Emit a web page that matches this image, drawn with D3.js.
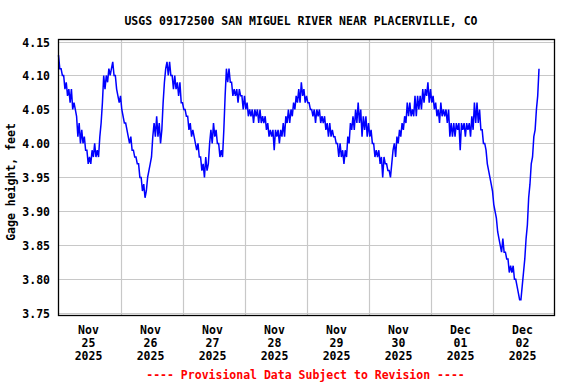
<!DOCTYPE html>
<html>
<head>
<meta charset="utf-8">
<script src="https://cdn.jsdelivr.net/npm/d3@7"></script>
<style>
  body { margin: 0; background: #fff; }
  text { font-family: "DejaVu Sans Mono", monospace; font-weight: bold; font-size: 11.5px; }
</style>
</head>
<body>
<div id="wrapper"></div>
<script>
const chartTitle = "USGS 09172500 SAN MIGUEL RIVER NEAR PLACERVILLE, CO"
const yLabel = "Gage height, feet"
const footNote = "---- Provisional Data Subject to Revision ----"
// time window of the graph and spacing of the readings
const startTime = new Date(2025, 10, 25, 0, 0)
const endTime = new Date(2025, 11, 3, 0, 0)
const stepMinutes = 30
const yTicks = [3.75, 3.80, 3.85, 3.90, 3.95, 4.00, 4.05, 4.10, 4.15]
// gage height, feet, every 30 minutes from Nov 25 00:00
const gageHeight = [
  // nov 25
  4.13,4.11, 4.11,4.10, 4.10,4.08, 4.09,4.07, 4.08,4.06, 4.08,4.05, 4.06,4.05, 4.04,4.01,
  4.03,4.00, 4.02,4.00, 4.01,3.99, 3.99,3.97, 3.98,3.97, 3.99,3.98, 4.00,3.98, 3.99,3.98,
  4.01,4.03, 4.06,4.10, 4.08,4.10, 4.09,4.11, 4.10,4.11, 4.12,4.10, 4.10,4.08, 4.07,4.06,
  // nov 26
  4.07,4.05, 4.04,4.03, 4.03,4.02, 4.01,4.00, 4.01,3.99, 3.99,3.98, 3.98,3.97, 3.97,3.95,
  3.95,3.93, 3.94,3.92, 3.93,3.95, 3.96,3.97, 3.98,4.01, 4.03,4.01, 4.04,4.01, 4.03,4.00,
  4.02,4.06, 4.09,4.11, 4.12,4.10, 4.12,4.10, 4.10,4.08, 4.10,4.08, 4.09,4.07, 4.09,4.06,
  // nov 27
  4.06,4.05, 4.05,4.04, 4.04,4.02, 4.03,4.01, 4.02,4.01, 4.00,3.99, 4.00,3.98, 3.98,3.96,
  3.97,3.95, 3.98,3.96, 3.97,4.00, 4.02,4.00, 4.03,4.01, 4.02,4.00, 4.00,3.98, 3.99,3.98,
  4.02,4.07, 4.11,4.09, 4.11,4.09, 4.09,4.07, 4.08,4.07, 4.08,4.06, 4.08,4.07, 4.07,4.05,
  // nov 28
  4.07,4.05, 4.06,4.04, 4.05,4.04, 4.05,4.03, 4.05,4.04, 4.05,4.03, 4.05,4.03, 4.04,4.03,
  4.04,4.02, 4.03,4.01, 4.02,4.01, 4.02,3.99, 4.02,4.01, 4.02,4.00, 4.02,4.01, 4.03,4.01,
  4.04,4.03, 4.05,4.03, 4.05,4.04, 4.06,4.05, 4.07,4.06, 4.08,4.06, 4.09,4.07, 4.08,4.06,
  // nov 29
  4.07,4.06, 4.06,4.05, 4.05,4.04, 4.05,4.03, 4.05,4.04, 4.05,4.03, 4.04,4.03, 4.04,4.02,
  4.03,4.01, 4.03,4.01, 4.02,4.01, 4.01,4.00, 4.00,3.98, 4.00,3.98, 3.99,3.97, 3.99,3.98,
  4.01,4.00, 4.03,4.02, 4.04,4.02, 4.05,4.03, 4.06,4.03, 4.05,4.01, 4.04,4.02, 4.04,4.01,
  // nov 30
  4.03,4.01, 4.02,4.00, 4.00,3.98, 3.99,3.98, 3.99,3.97, 3.98,3.95, 3.98,3.97, 3.97,3.96,
  3.96,3.95, 3.97,3.99, 4.00,3.98, 4.01,4.00, 4.02,4.01, 4.03,4.02, 4.04,4.03, 4.06,4.04,
  4.06,4.04, 4.05,4.04, 4.07,4.04, 4.07,4.05, 4.07,4.05, 4.08,4.06, 4.08,4.07, 4.09,4.06,
  // dec 01
  4.08,4.06, 4.07,4.05, 4.06,4.04, 4.05,4.03, 4.06,4.04, 4.05,4.04, 4.05,4.03, 4.05,4.01,
  4.03,4.01, 4.03,4.01, 4.03,4.02, 4.03,3.99, 4.03,4.02, 4.03,4.01, 4.03,4.02, 4.03,4.01,
  4.04,4.02, 4.06,4.03, 4.06,4.03, 4.05,4.02, 4.02,4.00, 4.00,3.99, 3.97,3.96, 3.95,3.94,
  // dec 02
  3.93,3.91, 3.90,3.89, 3.87,3.86, 3.85,3.84, 3.86,3.84, 3.84,3.83, 3.83,3.81, 3.82,3.81,
  3.82,3.80, 3.80,3.79, 3.78,3.77, 3.77,3.79, 3.81,3.83, 3.86,3.88, 3.92,3.94, 3.97,3.98,
  4.01,4.02, 4.05,4.07, 4.11
]

function drawChart() {
    const parent = d3.select("#wrapper")
    parent.selectAll('*').remove()
    const timeAccessor = (d, i) => d3.timeMinute.offset(startTime, i * stepMinutes)
    let dimensions = {
        width: 576,
        height: 384,
        margin: {
            top: 39,
            right: 21,
            bottom: 68,
            left: 58,
        },
    }
    dimensions.boundedWidth = dimensions.width - dimensions.margin.left - dimensions.margin.right
    dimensions.boundedHeight = dimensions.height - dimensions.margin.top - dimensions.margin.bottom
    const wrapper = parent.append("svg").attr("width", dimensions.width).attr("height", dimensions.height)
    const bounds = wrapper.append("g")
        .attr("transform", `translate(${dimensions.margin.left},${dimensions.margin.top})`)
    // scales
    const xScaler = d3.scaleTime()
        .domain([startTime, endTime])
        .range([0.5, dimensions.boundedWidth - 0.5])
    const yScaler = d3.scaleLinear()
        .domain([yTicks[0], yTicks[yTicks.length - 1]])
        .range([dimensions.boundedHeight - 2.7, 2.5])
    const crisp = v => Math.round(v) + 0.5
    // grid lines
    const dayLines = d3.timeDay.range(d3.timeDay.offset(startTime, 1), endTime)
    bounds.append("g").selectAll("line").data(yTicks).enter().append("line")
        .attr("x1", 0).attr("x2", dimensions.boundedWidth)
        .attr("y1", d => crisp(yScaler(d))).attr("y2", d => crisp(yScaler(d)))
        .attr("stroke", "#c8c8c8").attr("stroke-width", 1.2)
    bounds.append("g").selectAll("line").data(dayLines).enter().append("line")
        .attr("x1", d => crisp(xScaler(d))).attr("x2", d => crisp(xScaler(d)))
        .attr("y1", 0).attr("y2", dimensions.boundedHeight)
        .attr("stroke", "#c8c8c8").attr("stroke-width", 1.2)
    // the gage line
    const lineGen = d3.line()
        .x((d, i) => xScaler(timeAccessor(d, i)))
        .y(d => yScaler(d))
    bounds.append("path")
        .attr("d", lineGen(gageHeight))
        .attr("fill", "none")
        .attr("stroke", "#0000ff")
        .attr("stroke-width", 1.5)
        .attr("stroke-linejoin", "miter")
    // frame
    bounds.append("rect")
        .attr("x", 0.5).attr("y", 0.5)
        .attr("width", dimensions.boundedWidth - 1).attr("height", dimensions.boundedHeight - 1)
        .attr("fill", "none").attr("stroke", "#000").attr("stroke-width", 1.3)
    // y tick labels
    bounds.append("g").selectAll("text").data(yTicks).enter().append("text")
        .attr("x", -8)
        .attr("y", d => yScaler(d) + 5)
        .attr("text-anchor", "end")
        .text(d => d3.format(".2f")(d))
    // x tick labels, centred on each day
    const days = d3.timeDay.range(startTime, endTime)
    const dayLabels = bounds.append("g").selectAll("text").data(days).enter().append("text")
        .attr("text-anchor", "middle")
        .attr("transform", d => `translate(${xScaler(d3.timeHour.offset(d, 12)) - 1},0)`)
    const labelLines = [d3.timeFormat("%b"), d3.timeFormat("%d"), d3.timeFormat("%Y")]
    labelLines.forEach((fmt, k) => {
        dayLabels.append("tspan")
            .attr("x", 0)
            .attr("y", dimensions.boundedHeight + 18 + k * 13)
            .text(d => fmt(d))
    })
    //add title
    wrapper.append("text")
        .attr("x", 301).attr("y", 25)
        .attr("text-anchor", "middle")
        .text(chartTitle)
    //add text gage height
    wrapper.append("text")
        .attr("transform", "translate(15,182) rotate(-90)")
        .attr("text-anchor", "middle")
        .text(yLabel)
    //add provisional note
    wrapper.append("text")
        .attr("x", 305.5).attr("y", 379)
        .attr("text-anchor", "middle")
        .attr("fill", "#ff0000")
        .text(footNote)
}
drawChart()
</script>
</body>
</html>
